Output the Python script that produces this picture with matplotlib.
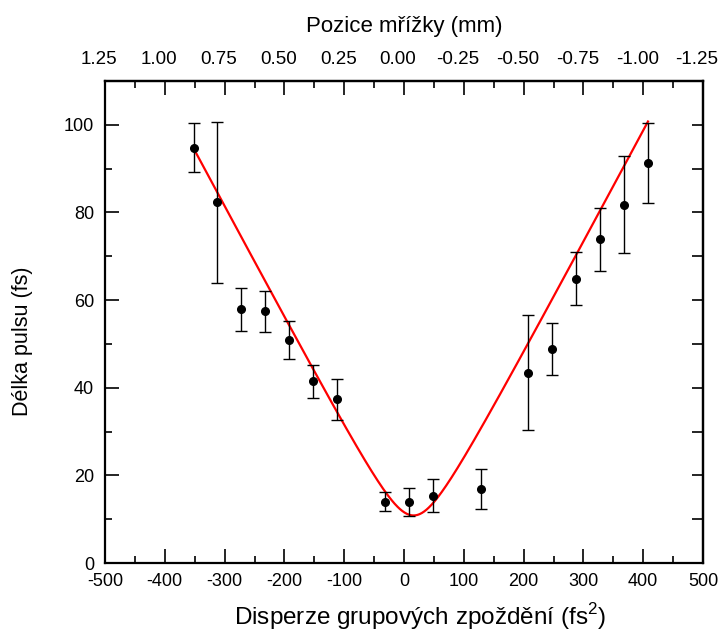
import numpy as np
import matplotlib
matplotlib.use("Agg")
import matplotlib.pyplot as plt
import matplotlib.transforms as mtransforms
from matplotlib.ticker import MultipleLocator, FixedLocator

plt.rcParams['font.family'] = ['Liberation Sans', 'DejaVu Sans']
plt.rcParams['axes.unicode_minus'] = False
plt.rcParams['mathtext.fontset'] = 'custom'
plt.rcParams['mathtext.rm'] = 'Liberation Sans'

# Measured data
gdd = [-352, -312, -272, -232, -192, -152, -112, -32, 8, 48, 128, 208, 248, 288, 328, 368, 408]
pulse = [94.8, 82.5, 57.9, 57.4, 50.9, 41.5, 37.4, 14.0, 14.0, 15.4, 16.9, 43.4, 48.8, 64.8, 73.9, 81.8, 91.3]
err_upper = [100.5, 100.7, 62.8, 62.0, 55.3, 45.2, 42.1, 16.1, 17.2, 19.1, 21.4, 56.5, 54.7, 70.9, 81.0, 92.9, 100.4]
err_lower = [89.2, 63.8, 52.9, 52.8, 46.5, 37.6, 32.6, 11.8, 10.7, 11.6, 12.4, 30.3, 43.0, 58.8, 66.7, 70.8, 82.2]

# Fit parameters (Gaussian pulse broadening model)
fit_tau0 = 10.85     # fs, minimum pulse length
fit_phi0 = 16.0      # fs^2, GDD of the minimum
fit_range = (-352, 408)

top_ticks_mm = [1.25, 1.00, 0.75, 0.50, 0.25, 0.00, -0.25, -0.50, -0.75, -1.00, -1.25]
top_tick_labels = ['1.25', '1.00', '0.75', '0.50', '0.25', '0.00', '-0.25', '-0.50', '-0.75', '-1.00', '-1.25']
mm_per_fs2 = -1.0 / 400.0

fig = plt.figure(figsize=(7.2, 6.35), dpi=100)
ax = fig.add_axes([105/720, 1 - 563/635, (703-105)/720, (563-81)/635])

yerr = [np.array(pulse) - np.array(err_lower), np.array(err_upper) - np.array(pulse)]
ax.errorbar(gdd, pulse, yerr=yerr, fmt='o', color='black', ms=5.5,
            ecolor='black', elinewidth=1.0, capsize=4.5, capthick=1.0, zorder=3)

phi = np.linspace(fit_range[0], fit_range[1], 600)
tau = np.sqrt(fit_tau0**2 + (4*np.log(2)*(phi - fit_phi0)/fit_tau0)**2)
ax.plot(phi, tau, color='#ff0000', lw=1.6, zorder=2)

ax.set_xlim(-500, 500)
ax.set_ylim(0, 110)
ax.xaxis.set_major_locator(MultipleLocator(100))
ax.xaxis.set_minor_locator(MultipleLocator(50))
ax.yaxis.set_major_locator(FixedLocator([0, 20, 40, 60, 80, 100]))
ax.yaxis.set_minor_locator(FixedLocator([10, 30, 50, 70, 90, 110]))
ax.tick_params(which='major', direction='in', length=10, width=1.2, labelsize=13, pad=7)
ax.tick_params(which='minor', direction='in', length=5, width=1.2)
ax.tick_params(axis='y', pad=8)
for s in ax.spines.values():
    s.set_linewidth(1.6)

ax.set_xlabel('Disperze grupových zpoždění (fs$^\\mathrm{2}$)', fontsize=17.5, labelpad=8)
ax.set_ylabel('Délka pulsu (fs)', fontsize=15.5, labelpad=22)
ax.xaxis.label.set_x(0.527)
ax.yaxis.label.set_y(0.46)

top = ax.secondary_xaxis('top', functions=(lambda x: x*mm_per_fs2, lambda m: m/mm_per_fs2))
top.set_xticks(top_ticks_mm)
top.set_xticklabels(top_tick_labels)
top.xaxis.set_minor_locator(FixedLocator([1.125, 0.875, 0.625, 0.375, 0.125, -0.125, -0.375, -0.625, -0.875, -1.125]))
top.tick_params(which='major', direction='in', length=10, width=1.2, labelsize=13.5, pad=9)
top.tick_params(which='minor', direction='in', length=5, width=1.2)
top.set_xlabel('Pozice mřížky (mm)', fontsize=16, labelpad=14)
top.spines['top'].set_linewidth(1.6)
shift = mtransforms.ScaledTranslation(-6/100, 0, fig.dpi_scale_trans)
for t in top.xaxis.get_major_ticks():
    t.label2.set_transform(t.label2.get_transform() + shift)

right = ax.secondary_yaxis('right')
right.set_yticks(list(range(0, 111, 10)))
right.tick_params(which='major', direction='in', length=8, width=1.2, labelright=False)
right.spines['right'].set_linewidth(1.6)

fig.savefig('out.png', dpi=100)
